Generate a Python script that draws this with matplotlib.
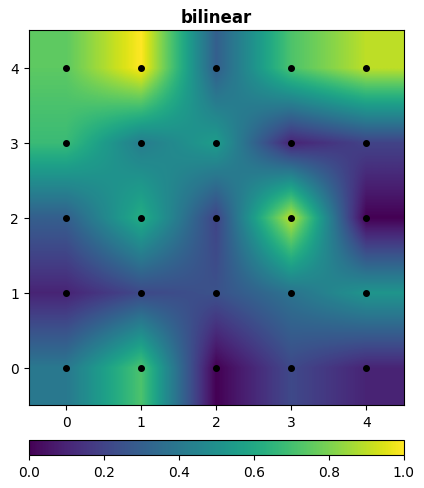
import matplotlib
matplotlib.use("Agg")
import matplotlib.pyplot as plt
import numpy as np

# rows run from y=0 up to y=4
row_0 = [0.40, 0.72, 0.00, 0.22, 0.10]
row_1 = [0.10, 0.22, 0.25, 0.38, 0.52]
row_2 = [0.30, 0.62, 0.20, 0.90, 0.00]
row_3 = [0.68, 0.42, 0.55, 0.10, 0.20]
row_4 = [0.75, 1.00, 0.30, 0.72, 0.90]
ticks = [0, 1, 2, 3, 4]
cbar_ticks = [0.0, 0.2, 0.4, 0.6, 0.8, 1.0]

W, H = 424, 489
grid = np.array([row_0, row_1, row_2, row_3, row_4])

fig = plt.figure(figsize=(W / 100, H / 100), dpi=100)
ax = fig.add_axes([28.7 / W, 1 - 406 / H, 375 / W, 375 / H])
im = ax.imshow(grid, cmap="viridis", origin="lower", interpolation="bilinear",
               vmin=0, vmax=1)
xx, yy = np.meshgrid(ticks, ticks)
ax.scatter(xx.ravel(), yy.ravel(), c="black", s=16)
ax.set_xticks(ticks)
ax.set_yticks(ticks)
ax.set_title("bilinear", fontweight="bold", fontsize=12)

cax = fig.add_axes([28.7 / W, 1 - 455.8 / H, 375 / W, 15 / H])
cbar = fig.colorbar(im, cax=cax, orientation="horizontal")
cbar.set_ticks(cbar_ticks)

fig.savefig("out.png", dpi=100)
